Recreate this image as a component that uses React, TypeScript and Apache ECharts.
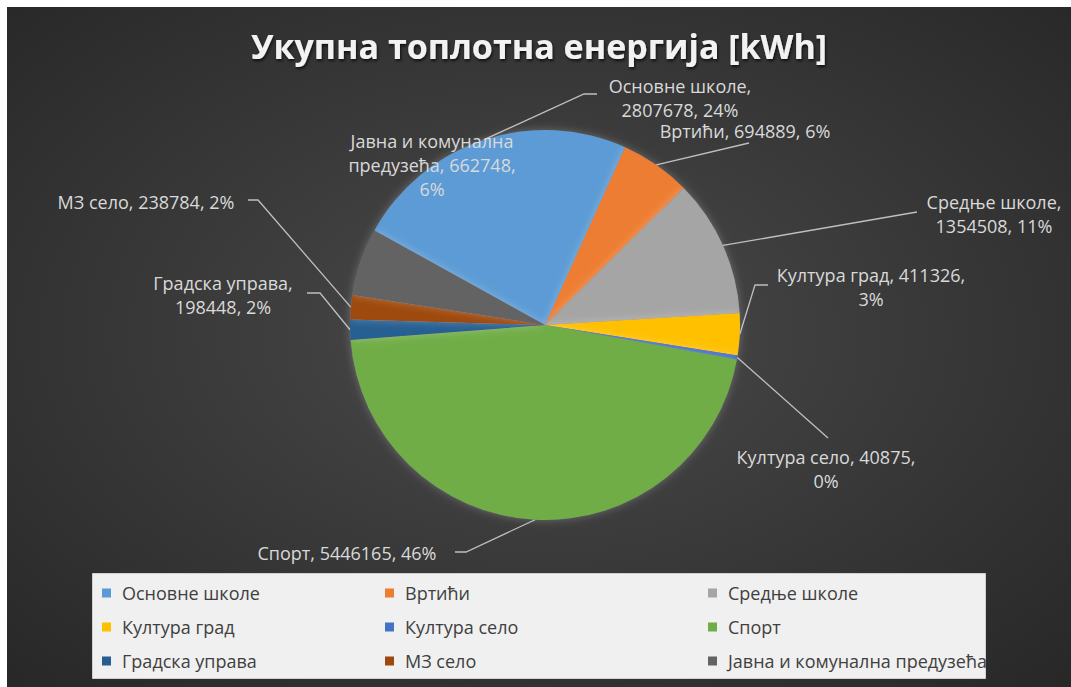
import React, { useEffect, useRef } from "react";
import * as echarts from "echarts";

const TITLE = "Укупна топлотна енергија [kWh]";
const categories = [
  "Основне школе",
  "Вртићи",
  "Средње школе",
  "Култура град",
  "Култура село",
  "Спорт",
  "Градска управа",
  "МЗ село",
  "Јавна и комунална предузећа",
];
const values = [2807678, 694889, 1354508, 411326, 40875, 5446165, 198448, 238784, 662748];
const colors = ["#5b9bd5", "#ed7d31", "#a5a5a5", "#ffc000", "#4472c4", "#70ad47", "#255e91", "#9e480e", "#636363"];

// legend columns (row-major order of the original legend)
const legendCol1 = ["Основне школе", "Култура град", "Градска управа"];
const legendCol2 = ["Вртићи", "Култура село", "МЗ село"];
const legendCol3 = ["Средње школе", "Спорт", "Јавна и комунална предузећа"];

// label placement (chart pixel coords) and wrapping style
type Wrap = "line" | "afterName" | "afterValue" | "split";
const labelWrap: Wrap[] = ["afterName", "line", "afterName", "afterValue", "afterValue", "line", "afterName", "line", "split"];
const labelPos: number[][] = [
  [673, 91], [738, 124], [987, 207], [864, 280], [819, 462], [340, 546], [216, 288], [139, 195], [425, 158],
];
const labelLineTail: number[][][] = [
  [[577, 87], [590, 87]],
  [[742, 136]],
  [[910, 205]],
  [[748, 278], [761, 278]],
  [[821, 431]],
  [[459, 545], [448, 545]],
  [[313, 286], [300, 286]],
  [[251, 193], [241, 193]],
  [],
];

const FONT = "Open Sans";

export default function App() {
  const ref = useRef<HTMLDivElement>(null);
  useEffect(() => {
    document.body.style.margin = "0";
    const chart = echarts.init(ref.current!, undefined, { renderer: "svg" });
    const data = categories.map((name, i) => ({
      name,
      value: values[i],
      itemStyle: { color: colors[i] },
      labelLine: { show: labelLineTail[i].length > 0 },
    }));
    chart.setOption({
      animation: false,
      backgroundColor: new echarts.graphic.RadialGradient(0.5, 0.48, 0.75, [
        { offset: 0, color: "#4a4a4a" },
        { offset: 1, color: "#262626" },
      ]),
      title: {
        text: TITLE,
        left: "center",
        top: 21,
        padding: [0, 22, 0, 0],
        textStyle: {
          fontFamily: FONT,
          fontWeight: "bold",
          fontSize: 34,
          lineHeight: 36,
          color: "#f2f2f2",
          textShadowColor: "rgba(0,0,0,0.7)",
          textShadowBlur: 3,
          textShadowOffsetX: 1,
          textShadowOffsetY: 2,
        },
      },
      graphic: [
        {
          type: "rect",
          left: 85,
          top: 566,
          shape: { width: 893, height: 105 },
          style: { fill: "#f0f0f0", stroke: "#d0d0d0", lineWidth: 1 },
          z: 0,
        },
      ],
      legend: [legendCol1, legendCol2, legendCol3].map((col, k) => ({
        data: col,
        orient: "vertical",
        left: [95, 378, 701][k],
        top: 576,
        padding: 0,
        itemGap: 14,
        itemWidth: 9,
        itemHeight: 9,
        icon: "rect",
        selectedMode: false,
        textStyle: {
          fontFamily: FONT,
          fontSize: 18,
          color: "#404040",
          lineHeight: 20,
          padding: [0, 0, 0, 6],
        },
      })),
      series: [
        {
          type: "pie",
          center: [538, 318],
          radius: 195,
          startAngle: 151,
          clockwise: true,
          avoidLabelOverlap: false,
          data,
          itemStyle: {
            borderWidth: 0,
            shadowBlur: 8,
            shadowColor: "rgba(255,255,255,0.25)",
          },
          label: {
            show: true,
            position: "outside",
            fontFamily: FONT,
            fontSize: 18,
            lineHeight: 24,
            color: "#d9d9d9",
            formatter: (p: any) => {
              const i = p.dataIndex;
              const pct = Math.round(p.percent) + "%";
              const v = String(p.value);
              switch (labelWrap[i]) {
                case "afterName":
                  return `${p.name},\n${v}, ${pct}`;
                case "afterValue":
                  return `${p.name}, ${v},\n${pct}`;
                case "split": {
                  const k = p.name.lastIndexOf(" ");
                  return `${p.name.slice(0, k)}\n${p.name.slice(k + 1)}, ${v},\n${pct}`;
                }
                default:
                  return `${p.name}, ${v}, ${pct}`;
              }
            },
          },
          labelLine: {
            show: true,
            length: 10,
            length2: 10,
            lineStyle: { color: "#bfbfbf", width: 1.3 },
          },
          labelLayout: (params: any) => {
            const i = params.dataIndex;
            const out: any = {
              x: labelPos[i][0],
              y: labelPos[i][1],
              align: "center",
              verticalAlign: "middle",
            };
            const pts = params.labelLinePoints;
            if (pts && pts.length && labelLineTail[i].length) {
              out.labelLinePoints = [pts[0], ...labelLineTail[i]];
            }
            return out;
          },
        },
      ],
    });
    return () => chart.dispose();
  }, []);
  return (
    <div style={{ position: "relative", width: 1071, height: 687, background: "#ffffff", overflow: "hidden" }}>
      <div ref={ref} style={{ position: "absolute", left: 7, top: 7, width: 1064, height: 680 }} />
    </div>
  );
}
